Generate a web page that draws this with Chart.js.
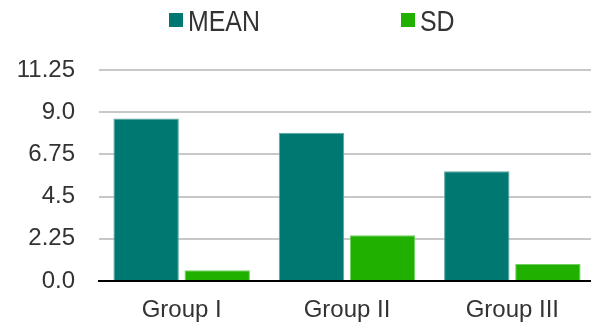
<!DOCTYPE html>
<html>
<head>
<meta charset="utf-8">
<script src="https://cdn.jsdelivr.net/npm/chart.js@4"></script>
<style>
  html, body { margin: 0; padding: 0; background: #fff; }
  #wrap { width: 591px; height: 329px; }
</style>
</head>
<body>
<div id="wrap"><canvas id="meanChart"></canvas></div>
<script>
const groups = ['Group I', 'Group II', 'Group III'];
const meanValues = [8.67, 7.9, 5.85];
const sdValues = [0.57, 2.44, 0.91];
const yTickLabels = ['0.0', '2.25', '4.5', '6.75', '9.0', '11.25'];

const textColor = '#333';

// legend drawn by hand so the two items can sit far apart like the original
const topLegend = {
    id: 'topLegend',
    afterDraw(chart) {
        const ctx = chart.ctx;
        const spots = [169, 401]; // box left edges
        ctx.save();
        chart.data.datasets.forEach((ds, i) => {
            const x = spots[i];
            ctx.fillStyle = ds.backgroundColor;
            ctx.fillRect(x, 13, 14, 14);
            ctx.fillStyle = textColor;
            ctx.font = '30px "Liberation Sans", Arial, sans-serif';
            ctx.textBaseline = 'alphabetic';
            ctx.save();
            ctx.translate(x + 19, 31);
            ctx.scale(0.83, 1);
            ctx.fillText(ds.label, 0, 0);
            ctx.restore();
        });
        ctx.restore();
    }
};

// the original plot runs a few pixels past the right edge of the picture
const widenPlot = {
    id: 'widenPlot',
    afterLayout(chart) {
        const extra = 4;
        const xs = chart.scales.x;
        xs.right += extra;
        xs.width += extra;
        xs.configure();
        chart.chartArea.right += extra;
        chart.chartArea.width += extra;
        const ys = chart.scales.y;
        ys.configure();
    }
};

new Chart(document.getElementById('meanChart').getContext('2d'), {
    type: 'bar',
    data: {
        labels: groups,
        datasets: [{
            label: 'MEAN',
            data: meanValues,
            backgroundColor: '#007872',
            borderColor: '#5aa8a2',
            borderWidth: 1,
            barPercentage: 0.92,
            categoryPercentage: 0.86
        }, {
            label: 'SD',
            data: sdValues,
            backgroundColor: '#20b000',
            borderColor: '#70d060',
            borderWidth: 1,
            barPercentage: 0.92,
            categoryPercentage: 0.86
        }]
    },
    options: {
        responsive: true,
        maintainAspectRatio: false,
        animation: false,
        layout: { padding: { top: 70, right: 0, left: 0, bottom: 0 } },
        plugins: {
            legend: { display: false },
            tooltip: { enabled: false }
        },
        scales: {
            x: {
                grid: { display: false, drawTicks: false },
                border: { color: '#000', width: 2 },
                ticks: {
                    color: textColor,
                    padding: 15,
                    font: { family: '"Liberation Sans", Arial, sans-serif', size: 24 }
                },
                afterFit(scale) { scale.height = 48; }
            },
            y: {
                min: 0,
                max: 11.25,
                border: { display: false },
                grid: {
                    drawTicks: false,
                    color: ctx => ctx.tick && ctx.tick.value === 0 ? 'rgba(0,0,0,0)' : '#c8c8c8',
                    lineWidth: 2
                },
                ticks: {
                    stepSize: 2.25,
                    color: textColor,
                    padding: 24,
                    font: { family: '"Liberation Sans", Arial, sans-serif', size: 24 },
                    callback: (value, index) => yTickLabels[index]
                },
                afterFit(scale) { scale.width = 99; }
            }
        }
    },
    plugins: [topLegend, widenPlot]
});
</script>
</body>
</html>
